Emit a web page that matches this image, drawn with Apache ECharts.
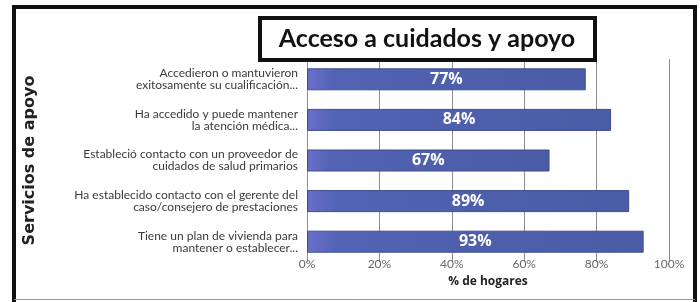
<!DOCTYPE html>
<html>
<head>
<meta charset="utf-8">
<script src="https://cdn.jsdelivr.net/npm/echarts@6.0.0/dist/echarts.min.js"></script>
<style>
  html, body { margin: 0; padding: 0; background: #fff; }
  #chart { width: 700px; height: 302px; }
</style>
</head>
<body>
<div id="chart"></div>
<script>
// datos
const categories = [
    "Accedieron o mantuvieron\nexitosamente su cualificación...",
    "Ha accedido y puede mantener\nla atención médica...",
    "Estableció contacto con un proveedor de\ncuidados de salud primarios",
    "Ha establecido contacto con el gerente del\ncaso/consejero de prestaciones",
    "Tiene un plan de vivienda para\nmantener o establecer..."
];
const values = [77, 84, 67, 89, 93];
const xTicks = [0, 20, 40, 60, 80, 100];

const chart = echarts.init(document.getElementById("chart"), null, { renderer: "canvas" });

const barColor = new echarts.graphic.LinearGradient(0, 0, 1, 0, [
    { offset: 0, color: "#6a6ecb" },
    { offset: 0.1, color: "#5163b2" },
    { offset: 1, color: "#4a5ca6" }
]);

chart.setOption({
    backgroundColor: "#ffffff",
    animation: false,
    title: {
        text: "Acceso a cuidados y apoyo",
        left: 427,
        top: 24,
        textAlign: "center",
        padding: 0,
        textStyle: {
            fontFamily: "Lato",
            fontWeight: "bold",
            fontSize: 25,
            lineHeight: 30,
            color: "#111"
        }
    },
    // marco exterior y recuadro del título
    graphic: [
        {
            type: "polyline",
            shape: { points: [[14, 310], [14, 7], [695, 7], [695, 310]] },
            style: { stroke: "#111", lineWidth: 4, fill: null },
            z: 10
        },
        {
            type: "line",
            shape: { x1: 14, y1: 299.5, x2: 695, y2: 299.5 },
            style: { stroke: "#999", lineWidth: 1 },
            z: 10
        },
        {
            type: "rect",
            shape: { x: 260, y: 18, width: 335, height: 42 },
            style: { fill: "#fff", stroke: "#111", lineWidth: 4 },
            z: 5
        }
    ],
    grid: { left: 307, right: 31, top: 59, bottom: 40 },
    xAxis: {
        type: "value",
        min: xTicks[0],
        max: xTicks[xTicks.length - 1],
        interval: xTicks[1] - xTicks[0],
        name: "% de hogares",
        nameLocation: "middle",
        nameGap: 14,
        nameTextStyle: { fontFamily: "Open Sans", fontWeight: "bold", fontSize: 12, color: "#222" },
        axisLine: { show: false },
        axisTick: { show: false },
        axisLabel: {
            formatter: "{value}%",
            margin: -4,
            fontFamily: "Lato",
            fontSize: 12,
            color: "#666"
        },
        splitLine: { show: true, lineStyle: { color: "#8c8c8c", width: 1 } }
    },
    yAxis: {
        type: "category",
        data: categories,
        inverse: true,
        name: "Servicios de apoyo",
        nameLocation: "middle",
        nameRotate: 90,
        nameGap: 269,
        nameTextStyle: { fontFamily: "DejaVu Sans", fontWeight: "bold", fontSize: 16, color: "#222" },
        axisLine: { show: false },
        axisTick: { show: false },
        axisLabel: {
            margin: 9,
            fontFamily: "Lato",
            fontSize: 12,
            lineHeight: 12,
            color: "#3a3a3a",
            align: "right"
        },
        splitLine: { show: false }
    },
    series: [
        {
            type: "bar",
            data: values,
            barWidth: 22,
            itemStyle: { color: barColor, borderColor: "#3e4d92", borderWidth: 1 },
            label: {
                show: true,
                position: "inside",
                formatter: "{c}%",
                fontFamily: "Open Sans",
                fontWeight: "bold",
                fontSize: 16,
                color: "#fff"
            }
        }
    ]
});
</script>
</body>
</html>
